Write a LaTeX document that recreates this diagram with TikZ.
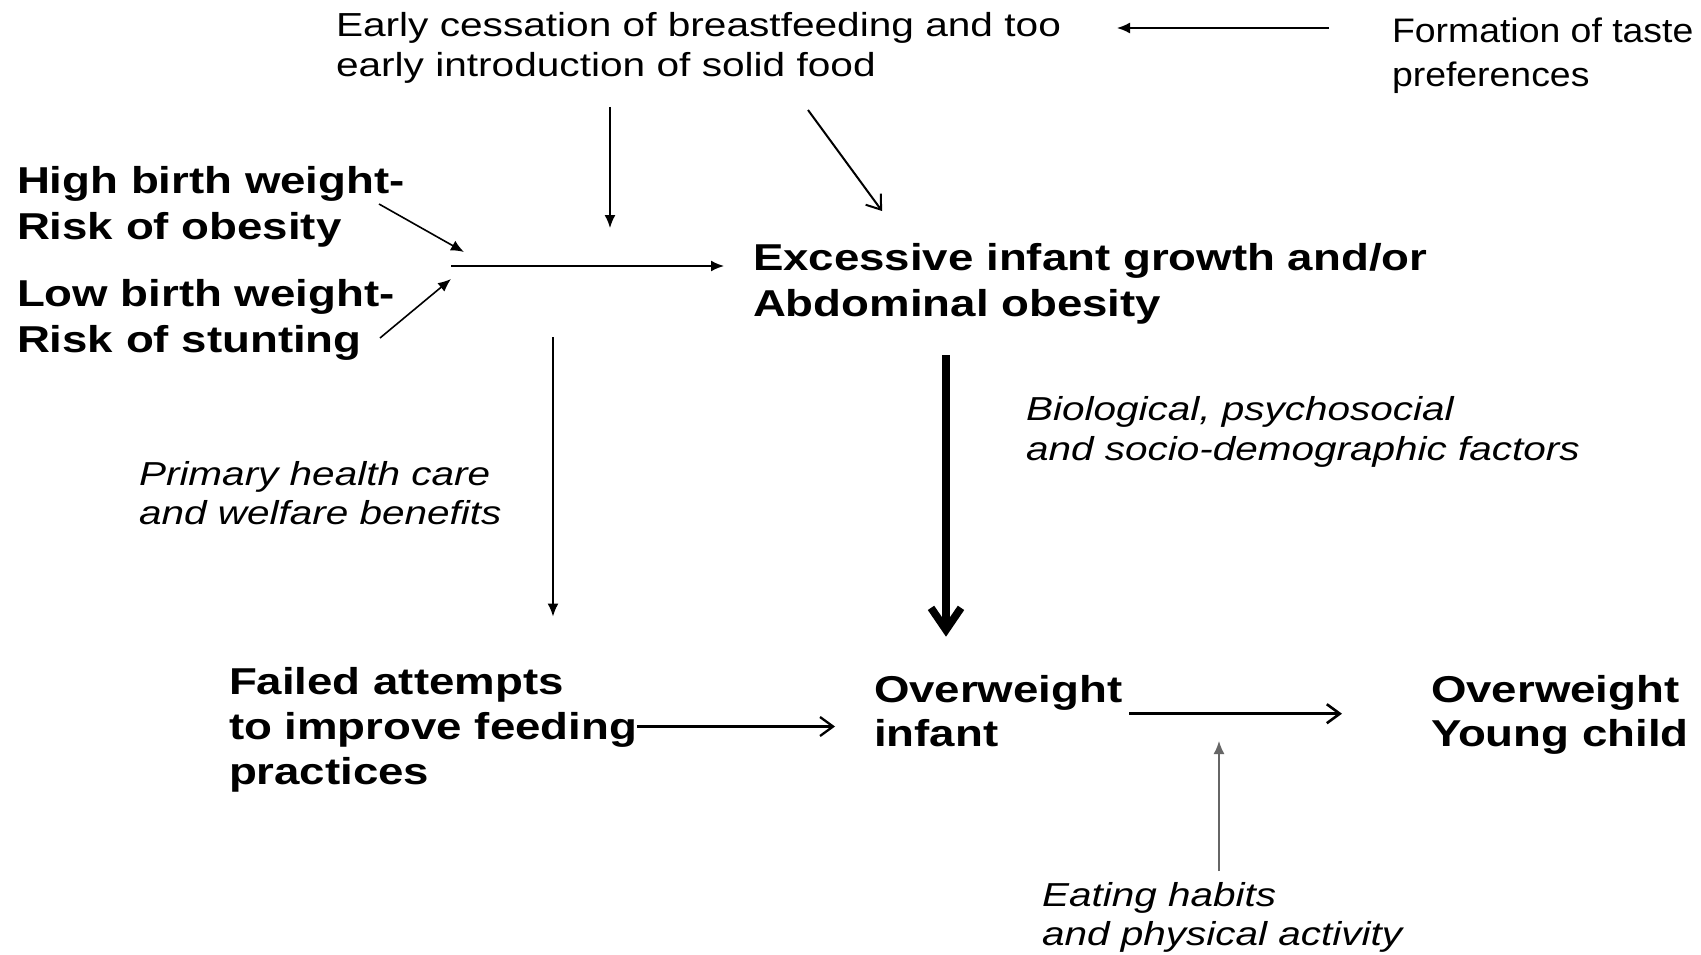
\documentclass[tikz,border=0pt]{standalone}
\usepackage{fontspec}
\setmainfont[FakeStretch=1.22]{Liberation Sans}
\newfontfamily\tastefont[FakeStretch=1.1]{Liberation Sans}
\usetikzlibrary{arrows.meta}
\newcommand{\mlines}[1]{\begin{tabular}[t]{@{}l@{}}#1\end{tabular}}
\begin{document}
\begin{tikzpicture}[x=1pt,y=-1pt,
  lbl/.style={anchor=base west, inner sep=0pt, outer sep=0pt},
  reg/.style={lbl, font=\fontsize{33.3pt}{40.5pt}\selectfont},
  ita/.style={lbl, font=\fontsize{33.2pt}{39.5pt}\selectfont\itshape},
  bld/.style={lbl, font=\fontsize{37.4pt}{45.5pt}\selectfont\bfseries},
  tst/.style={lbl, font=\tastefont\fontsize{34pt}{44pt}\selectfont},
  fil/.style={line width=1.6pt, -{Latex[length=13pt,width=11pt]}},
  opn/.style={line width=2.6pt, -{Straight Barb[length=13pt,width=19pt]}},
  thk/.style={line width=7.7pt, -{Straight Barb[length=22pt,width=30pt]}},
  gry/.style={fil, draw=black!60}
  ]
\path[use as bounding box, fill=white] (0,0) rectangle (1701,955);

% texts
\node[reg] (early) at (336,36.5) {\mlines{Early cessation of breastfeeding and too\\early introduction of solid food}};
\node[tst] (taste) at (1392,43) {\mlines{Formation of taste\\preferences}};
\node[bld, font=\fontsize{37.4pt}{46pt}\selectfont\bfseries] (high) at (17,193.3) {\mlines{High birth weight-\\Risk of obesity}};
\node[bld, font=\fontsize{37.4pt}{46pt}\selectfont\bfseries] (low) at (17,306.6) {\mlines{Low birth weight-\\Risk of stunting}};
\node[bld, font=\fontsize{37.4pt}{46.5pt}\selectfont\bfseries] (excess) at (753,270) {\mlines{Excessive infant growth and/or\\Abdominal obesity}};
\node[ita, font=\fontsize{33.2pt}{40.5pt}\selectfont\itshape] (bio) at (1026,420) {\mlines{Biological, psychosocial\\and socio-demographic factors}};
\node[ita, font=\fontsize{33.2pt}{39pt}\selectfont\itshape] (primary) at (139,485) {\mlines{Primary health care\\and welfare benefits}};
\node[bld, font=\fontsize{37.4pt}{45pt}\selectfont\bfseries] (failed) at (229,694.6) {\mlines{Failed attempts\\to improve feeding\\practices}};
\node[bld, font=\fontsize{37.4pt}{44pt}\selectfont\bfseries] (owinfant) at (874,702.7) {\mlines{Overweight\\infant}};
\node[bld, font=\fontsize{37.4pt}{44pt}\selectfont\bfseries] (owchild) at (1431,702.7) {\mlines{Overweight\\Young child}};
\node[ita, font=\fontsize{33.2pt}{39.5pt}\selectfont\itshape] (eating) at (1042,906) {\mlines{Eating habits\\and physical activity}};

% connector end points
\coordinate (tasteS) at (1329,28);
\coordinate (earlyE) at (1117,28);
\coordinate (earlyV) at (610,107);
\coordinate (jtop) at (610,228);
\coordinate (earlyD) at (808,110);
\coordinate (excessD) at (882,211);
\coordinate (jstart) at (451,266);
\coordinate (excessW) at (724,266);
\coordinate (highS) at (379,204);
\coordinate (jhigh) at (464,252);
\coordinate (lowS) at (380,338);
\coordinate (jlow) at (451,279);
\coordinate (vtop) at (553,337);
\coordinate (failedN) at (553,616.5);
\coordinate (excessS) at (946,355);
\coordinate (owinfantN) at (946,636.7);
\coordinate (failedE) at (637,726.5);
\coordinate (owinfantW) at (835,726.5);
\coordinate (owinfantE) at (1129,713.7);
\coordinate (owchildW) at (1342,713.7);
\coordinate (eatingN) at (1219,871);
\coordinate (midarrow) at (1219,741);

% connectors
\draw[fil] (tasteS) -- (earlyE);
\draw[fil] (earlyV) -- (jtop);
\draw[opn, line width=2pt] (earlyD) -- (excessD);
\draw[fil, line width=1.8pt] (jstart) -- (excessW);
\draw[fil] (highS) -- (jhigh);
\draw[fil] (lowS) -- (jlow);
\draw[fil] (vtop) -- (failedN);
\draw[thk] (excessS) -- (owinfantN);
\draw[opn, line width=2.3pt] (failedE) -- (owinfantW);
\draw[opn] (owinfantE) -- (owchildW);
\draw[gry] (eatingN) -- (midarrow);
\end{tikzpicture}
\end{document}
